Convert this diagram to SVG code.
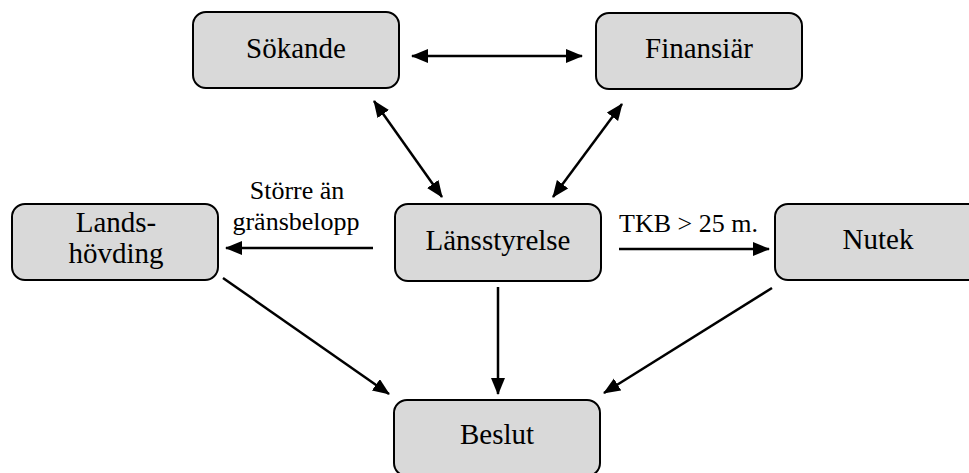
<svg xmlns="http://www.w3.org/2000/svg" width="969" height="473" viewBox="0 0 969 473">
  <style>
    .box { fill: #d9d9d9; stroke: #000; stroke-width: 2; }
    .node-text { font-family: 'Liberation Serif', 'Times New Roman', serif; font-size: 29px; fill: #000; text-anchor: middle; }
    .label { font-family: 'Liberation Serif', 'Times New Roman', serif; font-size: 26px; fill: #000; }
    .conn { stroke: #000; stroke-width: 2.5; fill: none; }
  </style>
  <defs>
    <marker id="arrow" markerUnits="userSpaceOnUse" markerWidth="18" markerHeight="15" refX="16" refY="7" orient="auto-start-reverse">
      <path d="M0,0 L17,7 L0,14 z" fill="#000"/>
    </marker>
  </defs>
  <rect width="969" height="473" fill="#fff"/>

  <g id="connectors">
    <line class="conn" x1="412" y1="56" x2="582" y2="56" marker-start="url(#arrow)" marker-end="url(#arrow)"/>
    <line class="conn" x1="374" y1="101" x2="442" y2="197" marker-start="url(#arrow)" marker-end="url(#arrow)"/>
    <line class="conn" x1="622" y1="104" x2="553" y2="197" marker-start="url(#arrow)" marker-end="url(#arrow)"/>
    <line class="conn" x1="373" y1="248" x2="226" y2="248" marker-end="url(#arrow)"/>
    <line class="conn" x1="619" y1="249" x2="769" y2="249" marker-end="url(#arrow)"/>
    <line class="conn" x1="223" y1="278" x2="389" y2="394" marker-end="url(#arrow)"/>
    <line class="conn" x1="498" y1="287" x2="498" y2="394" marker-end="url(#arrow)"/>
    <line class="conn" x1="772" y1="288" x2="604" y2="393" marker-end="url(#arrow)"/>
    <text class="label" x="297" y="199" text-anchor="middle">Större än</text>
    <text class="label" x="296" y="230" text-anchor="middle">gränsbelopp</text>
    <text class="label" x="619" y="232">TKB &gt; 25 m.</text>
  </g>

  <g id="sokande">
    <rect class="box" x="193" y="12" width="206" height="76" rx="13"/>
    <text class="node-text" x="296" y="58">Sökande</text>
  </g>
  <g id="finansiar">
    <rect class="box" x="596" y="13" width="206" height="76" rx="13"/>
    <text class="node-text" x="699" y="58">Finansiär</text>
  </g>
  <g id="landshovding">
    <rect class="box" x="12" y="204" width="206" height="76" rx="13"/>
    <text class="node-text" x="116" y="232">Lands-</text>
    <text class="node-text" x="116" y="263">hövding</text>
  </g>
  <g id="lansstyrelse">
    <rect class="box" x="395" y="204" width="206" height="77" rx="13"/>
    <text class="node-text" x="498" y="250">Länsstyrelse</text>
  </g>
  <g id="nutek">
    <rect class="box" x="775" y="204" width="206" height="76" rx="13"/>
    <text class="node-text" x="878" y="249">Nutek</text>
  </g>
  <g id="beslut">
    <rect class="box" x="394" y="400" width="206" height="76" rx="13"/>
    <text class="node-text" x="497" y="444">Beslut</text>
  </g>
</svg>
